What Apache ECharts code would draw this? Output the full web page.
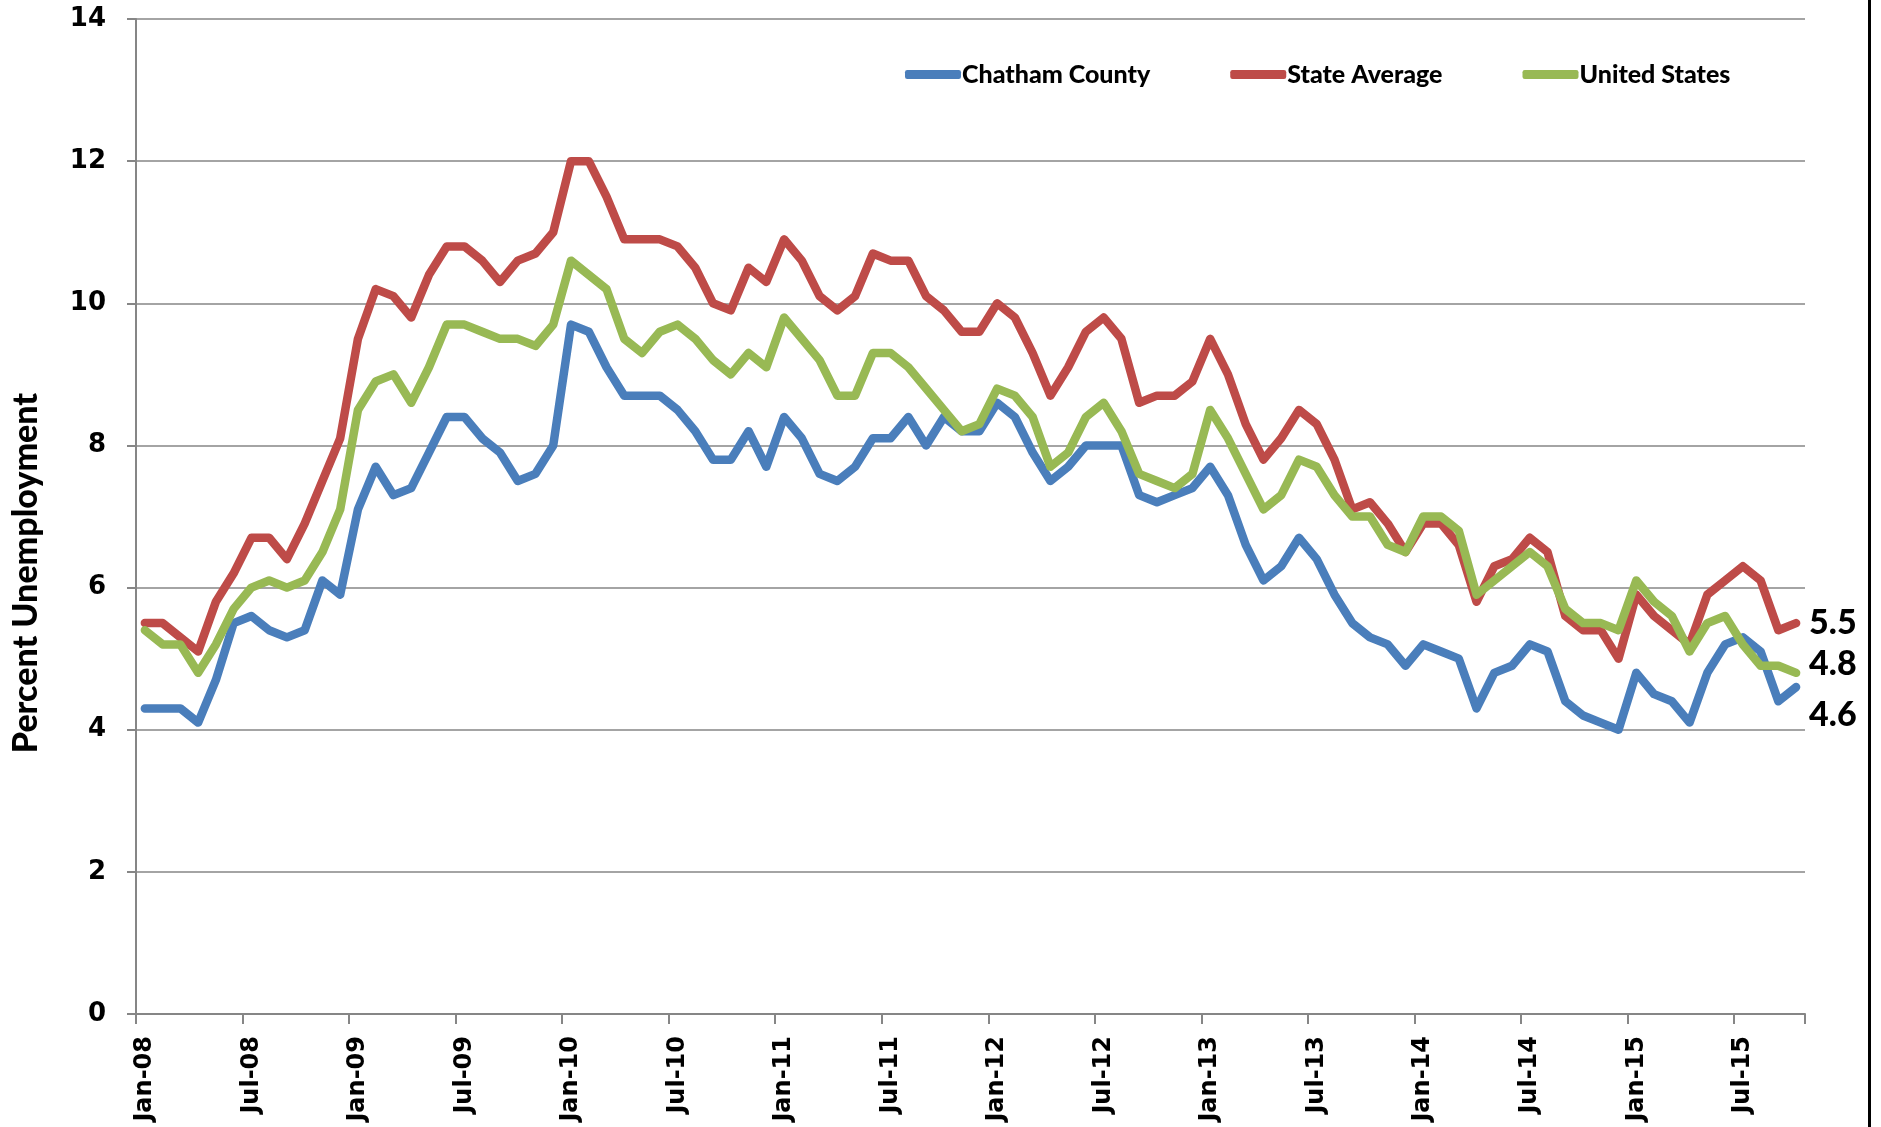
<!DOCTYPE html>
<html>
<head>
<meta charset="utf-8">
<script src="https://cdn.jsdelivr.net/npm/echarts@6/dist/echarts.min.js"></script>
<style>
  html, body { margin: 0; padding: 0; background: #fff; }
  #chart { width: 1881px; height: 1127px; }
</style>
</head>
<body>
<div id="chart"></div>
<script>
// months Jan-08 .. Oct-15
const monthNames = ['Jan', 'Feb', 'Mar', 'Apr', 'May', 'Jun', 'Jul', 'Aug', 'Sep', 'Oct', 'Nov', 'Dec']
const years = ['08', '09', '10', '11', '12', '13', '14', '15']
const lastMonthCount = 10 // 2015 runs to Oct

const chatham = [
  4.3, 4.3, 4.3, 4.1, 4.7, 5.5, 5.6, 5.4, 5.3, 5.4, 6.1, 5.9,
  7.1, 7.7, 7.3, 7.4, 7.9, 8.4, 8.4, 8.1, 7.9, 7.5, 7.6, 8.0,
  9.7, 9.6, 9.1, 8.7, 8.7, 8.7, 8.5, 8.2, 7.8, 7.8, 8.2, 7.7,
  8.4, 8.1, 7.6, 7.5, 7.7, 8.1, 8.1, 8.4, 8.0, 8.4, 8.2, 8.2,
  8.6, 8.4, 7.9, 7.5, 7.7, 8.0, 8.0, 8.0, 7.3, 7.2, 7.3, 7.4,
  7.7, 7.3, 6.6, 6.1, 6.3, 6.7, 6.4, 5.9, 5.5, 5.3, 5.2, 4.9,
  5.2, 5.1, 5.0, 4.3, 4.8, 4.9, 5.2, 5.1, 4.4, 4.2, 4.1, 4.0,
  4.8, 4.5, 4.4, 4.1, 4.8, 5.2, 5.3, 5.1, 4.4, 4.6
]
const stateAvg = [
  5.5, 5.5, 5.3, 5.1, 5.8, 6.2, 6.7, 6.7, 6.4, 6.9, 7.5, 8.1,
  9.5, 10.2, 10.1, 9.8, 10.4, 10.8, 10.8, 10.6, 10.3, 10.6, 10.7, 11.0,
  12.0, 12.0, 11.5, 10.9, 10.9, 10.9, 10.8, 10.5, 10.0, 9.9, 10.5, 10.3,
  10.9, 10.6, 10.1, 9.9, 10.1, 10.7, 10.6, 10.6, 10.1, 9.9, 9.6, 9.6,
  10.0, 9.8, 9.3, 8.7, 9.1, 9.6, 9.8, 9.5, 8.6, 8.7, 8.7, 8.9,
  9.5, 9.0, 8.3, 7.8, 8.1, 8.5, 8.3, 7.8, 7.1, 7.2, 6.9, 6.5,
  6.9, 6.9, 6.6, 5.8, 6.3, 6.4, 6.7, 6.5, 5.6, 5.4, 5.4, 5.0,
  5.9, 5.6, 5.4, 5.2, 5.9, 6.1, 6.3, 6.1, 5.4, 5.5
]
const unitedStates = [
  5.4, 5.2, 5.2, 4.8, 5.2, 5.7, 6.0, 6.1, 6.0, 6.1, 6.5, 7.1,
  8.5, 8.9, 9.0, 8.6, 9.1, 9.7, 9.7, 9.6, 9.5, 9.5, 9.4, 9.7,
  10.6, 10.4, 10.2, 9.5, 9.3, 9.6, 9.7, 9.5, 9.2, 9.0, 9.3, 9.1,
  9.8, 9.5, 9.2, 8.7, 8.7, 9.3, 9.3, 9.1, 8.8, 8.5, 8.2, 8.3,
  8.8, 8.7, 8.4, 7.7, 7.9, 8.4, 8.6, 8.2, 7.6, 7.5, 7.4, 7.6,
  8.5, 8.1, 7.6, 7.1, 7.3, 7.8, 7.7, 7.3, 7.0, 7.0, 6.6, 6.5,
  7.0, 7.0, 6.8, 5.9, 6.1, 6.3, 6.5, 6.3, 5.7, 5.5, 5.5, 5.4,
  6.1, 5.8, 5.6, 5.1, 5.5, 5.6, 5.2, 4.9, 4.9, 4.8
]

const categories = []
years.forEach((y, yi) => {
  const n = yi === years.length - 1 ? lastMonthCount : 12
  for (let m = 0; m < n; m++) categories.push(monthNames[m] + '-' + y)
})

const axisGray = '#868686'

const makeSeries = (name, color, data, labelOffset) => ({
  name: name,
  type: 'line',
  data: data,
  symbol: 'none',
  color: color,
  lineStyle: { width: 8.5, color: color, join: 'round', cap: 'round' },
  emphasis: { disabled: true },
  endLabel: {
    show: true,
    formatter: (p) => p.value.toFixed(1),
    distance: 5,
    offset: labelOffset,
    color: '#000',
    fontFamily: 'Lato',
    fontWeight: 900,
    fontSize: 34
  }
})

const chart = echarts.init(document.getElementById('chart'))

const option = {
  animation: false,
  backgroundColor: '#fff',
  grid: {
    left: 136,
    right: 76,
    top: 19,
    bottom: 113,
    containLabel: false
  },
  legend: {
    top: 57,
    left: 900,
    itemWidth: 56,
    itemHeight: 9,
    itemGap: 80,
    icon: 'roundRect',
    textStyle: {
      color: '#000',
      fontFamily: 'Lato',
      fontWeight: 900,
      fontSize: 25,
      padding: [0, 0, 0, -4]
    },
    data: ['Chatham County', 'State Average', 'United States']
  },
  xAxis: {
    type: 'category',
    data: categories,
    boundaryGap: true,
    axisLine: { lineStyle: { color: axisGray, width: 2 } },
    axisTick: { show: true, interval: 5, length: 10, lineStyle: { color: axisGray, width: 2 } },
    axisLabel: {
      interval: 5,
      rotate: 90,
      margin: 22,
      color: '#000',
      fontFamily: 'DejaVu Sans',
      fontWeight: 'bold',
      fontSize: 24
    },
    splitLine: { show: false }
  },
  yAxis: {
    type: 'value',
    min: 0,
    max: 14,
    interval: 2,
    axisLine: { show: true, lineStyle: { color: axisGray, width: 2 } },
    axisTick: { show: true, length: 9, lineStyle: { color: axisGray, width: 2 } },
    axisLabel: {
      margin: 30,
      color: '#000',
      fontFamily: 'DejaVu Sans',
      fontWeight: 'bold',
      fontSize: 26
    },
    splitLine: { lineStyle: { color: axisGray, width: 1.5 } }
  },
  graphic: [
    {
      type: 'text',
      x: 26,
      y: 573,
      rotation: Math.PI / 2,
      style: {
        text: 'Percent Unemployment',
        fill: '#000',
        font: '900 34px Lato',
        align: 'center',
        verticalAlign: 'middle'
      }
    },
    {
      type: 'rect',
      shape: { x: 1868, y: 0, width: 3, height: 1127 },
      style: { fill: '#000' }
    }
  ],
  series: [
    makeSeries('Chatham County', '#4A7EBB', chatham, [8, 28]),
    makeSeries('State Average', '#BE4B48', stateAvg, [8, 0]),
    makeSeries('United States', '#98B954', unitedStates, [8, -9])
  ]
}

chart.setOption(option)

window.addEventListener('resize', () => {
  chart && chart.resize()
})
</script>
</body>
</html>
